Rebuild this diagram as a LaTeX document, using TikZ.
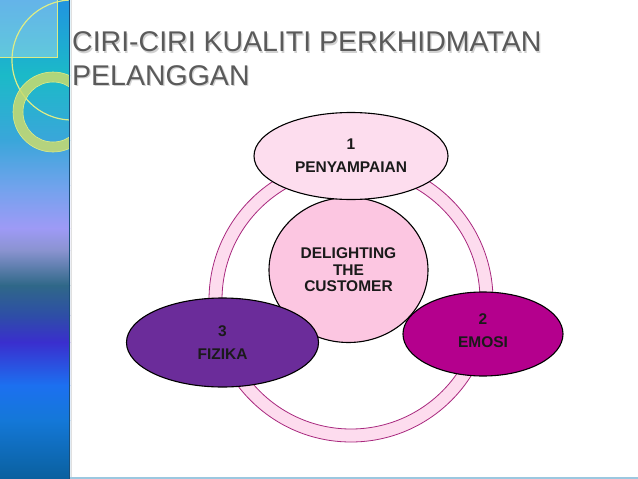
\documentclass[tikz,border=0pt]{standalone}
\usepackage{fontspec}
\setmainfont{Liberation Sans}
\usetikzlibrary{shapes.geometric}
\definecolor{titlegray}{HTML}{5A5A5A}
\definecolor{ringfill}{HTML}{FDDCEE}
\definecolor{ringline}{HTML}{A8287E}
\definecolor{topfill}{HTML}{FDDDEE}
\definecolor{midfill}{HTML}{FCC6E1}
\definecolor{emofill}{HTML}{B4008D}
\definecolor{fizfill}{HTML}{6B2C9A}
\definecolor{txt}{HTML}{1A1A1A}
\definecolor{decoline}{HTML}{DCEC88}
\definecolor{decoring}{HTML}{CADB6E}
\definecolor{g0}{HTML}{2194E0}
\definecolor{g1}{HTML}{1BBAC8}
\definecolor{g2}{HTML}{3AA6DA}
\definecolor{g3}{HTML}{6FA3EC}
\definecolor{g4}{HTML}{9E9AF6}
\definecolor{g5}{HTML}{8A93D0}
\definecolor{g6}{HTML}{2F6888}
\definecolor{g7}{HTML}{2E4EA6}
\definecolor{g8}{HTML}{3A2ECE}
\definecolor{g9}{HTML}{1C70F0}
\definecolor{g10}{HTML}{1478D8}
\definecolor{g11}{HTML}{0A609E}
\definecolor{baredge}{HTML}{1A4F7A}
\definecolor{bottomline}{HTML}{9CC8E0}
\tikzset{
  oval/.style={ellipse, draw=black, line width=1.1pt, inner sep=0pt, align=center,
    text=txt, font=\bfseries\fontsize{15.5}{23}\selectfont},
  titletext/.style={anchor=base west, text=titlegray, inner sep=0pt,
    font=\fontsize{28.5}{33}\selectfont},
  titleshadow/.style={titletext, text=black!18},
  ringedge/.style={draw=ringline, line width=0.8pt},
}
\begin{document}
\begin{tikzpicture}[x=1pt,y=-1pt]
\useasboundingbox (0,0) rectangle (638,479);
\fill[white] (0,0) rectangle (638,479);
% gradient bar
\shade[top color=g0,bottom color=g1] (0,0) rectangle (70,75.5);
\shade[top color=g1,bottom color=g2] (0,75) rectangle (70,140.5);
\shade[top color=g2,bottom color=g3] (0,140) rectangle (70,185.5);
\shade[top color=g3,bottom color=g4] (0,185) rectangle (70,228.5);
\shade[top color=g4,bottom color=g5] (0,228) rectangle (70,250.5);
\shade[top color=g5,bottom color=g6] (0,250) rectangle (70,285.5);
\shade[top color=g6,bottom color=g7] (0,285) rectangle (70,315.5);
\shade[top color=g7,bottom color=g8] (0,315) rectangle (70,342.5);
\shade[top color=g8,bottom color=g9] (0,342) rectangle (70,385.5);
\shade[top color=g9,bottom color=g10] (0,385) rectangle (70,420.5);
\shade[top color=g10,bottom color=g11] (0,420) rectangle (70,479);
% decorations
\begin{scope}
\clip (0,0) rectangle (69,479);
\fill[white, opacity=0.3] (0,0) rectangle (57,57);
\draw[decoline, line width=1pt] (0,57) -- (57,57) -- (57,0);
\draw[decoline, line width=1.2pt] (72,60) circle (60);
\draw[decoring, opacity=0.85, line width=10pt] (53,112) circle (35);
\draw[decoline, line width=0.6pt] (53,112) circle (40) (53,112) circle (30);
\end{scope}
\draw[baredge, line width=1.5pt] (69.5,0) -- (69.5,479);
\draw[black!12, line width=1.5pt] (71.5,0) -- (71.5,479);
\draw[bottomline, line width=1.2pt] (70,478) -- (638,478);
% title
\node[titleshadow] (title1s) at (73.2,53.2) {CIRI-CIRI KUALITI PERKHIDMATAN};
\node[titleshadow] (title2s) at (73.2,86.2) {PELANGGAN};
\node[titletext] (title1) at (72,52) {CIRI-CIRI KUALITI PERKHIDMATAN};
\node[titletext] (title2) at (72,85) {PELANGGAN};
% ring
\fill[ringfill, even odd rule] (351,300) circle (142) (351,300) circle (129);
\draw[ringedge] (351,300) circle (142);
\draw[ringedge] (351,300) circle (129);
% nodes
\node[oval, fill=midfill, minimum width=159pt, minimum height=145pt,
  font=\bfseries\fontsize{15.5}{16.5}\selectfont] (center) at (348.5,270)
  {DELIGHTING\\THE\\CUSTOMER};
\node[oval, fill=topfill, minimum width=194pt, minimum height=87pt] (n1) at (351,156)
  {1\\PENYAMPAIAN};
\node[oval, fill=emofill, minimum width=160pt, minimum height=84pt] (n2) at (483,334)
  {2\\EMOSI\\[-16pt]\mbox{}};
\node[oval, fill=fizfill, minimum width=192pt, minimum height=89pt] (n3) at (222.5,342.5)
  {3\\FIZIKA};
\end{tikzpicture}
\end{document}
